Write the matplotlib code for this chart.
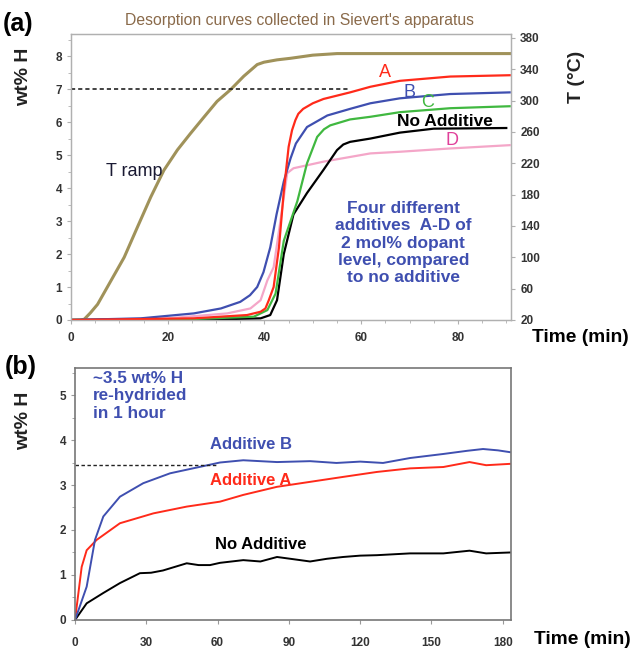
import matplotlib
matplotlib.use("Agg")
import matplotlib.pyplot as plt
import numpy as np

plt.rcParams['font.family'] = ['Liberation Sans', 'DejaVu Sans']

# ---- panel (a): desorption curves ----
t_ramp = [0, 2.0, 2.75, 4.0, 5.5, 8.25, 11, 13.7, 16.5, 19.2, 22, 24.7, 27.5, 30.2, 33, 35.7, 38.5, 39.9,
          42.6, 45.4, 50, 55, 70, 91]
T_ramp = [20, 20, 21, 29, 40, 70, 100, 138, 177, 211, 237, 258, 279, 299, 314, 331, 346, 349,
          352, 354, 358, 360, 360, 360]

t_A = [0, 25.4, 36.4, 39.2, 40.2, 40.9, 41.9, 43.0, 44.0, 45.0, 45.7, 46.4, 47.0, 48.0, 50, 52.2, 57.7, 61.9, 68, 78.4, 90.7]
w_A = [0, 0.05, 0.15, 0.25, 0.35, 0.6, 1.0, 2.2, 3.9, 5.25, 5.75, 6.06, 6.25, 6.4, 6.57, 6.7, 6.9, 7.07, 7.25, 7.38, 7.42]

t_B = [0, 14.4, 25.4, 31.0, 35.0, 37.0, 38.5, 39.8, 41.2, 42.5, 44.0, 45.4, 46.5, 48.8, 53.0, 57.7, 61.9, 68, 78.4, 90.7]
w_B = [0, 0.05, 0.2, 0.35, 0.55, 0.75, 1.0, 1.45, 2.2, 3.2, 4.2, 4.9, 5.35, 5.85, 6.2, 6.4, 6.57, 6.72, 6.85, 6.9]

t_C = [0, 25.4, 37.8, 40.6, 42.3, 44.0, 46.8, 48.8, 50.9, 52.3, 53.6, 57.7, 61.9, 68, 78.4, 90.7]
w_C = [0, 0.03, 0.1, 0.3, 0.8, 2.4, 3.6, 4.75, 5.55, 5.78, 5.9, 6.08, 6.16, 6.3, 6.42, 6.48]

t_D = [0, 20, 32.3, 37.1, 39.2, 40.6, 41.9, 43.3, 44.7, 46.0, 52.2, 61.9, 68, 78.4, 90.7]
w_D = [0, 0.05, 0.2, 0.35, 0.6, 1.2, 1.6, 3.0, 4.45, 4.6, 4.8, 5.05, 5.1, 5.2, 5.3]

t_N = [0, 30, 39.2, 41.2, 42.6, 44.0, 46.0, 48.8, 52.2, 55.0, 56.3, 57.7, 61.9, 68, 75, 90]
w_N = [0, 0.02, 0.05, 0.15, 0.6, 2.0, 3.2, 3.85, 4.55, 5.15, 5.32, 5.4, 5.5, 5.68, 5.8, 5.82]

# ---- panel (b): re-hydriding ----
t_bB = [0, 2, 4.9, 8.4, 11.9, 18.9, 28.7, 40, 54, 61, 70.8, 85, 98.9, 110, 120, 129.6, 141, 155, 165, 171.7, 178, 183]
w_bB = [0, 0.3, 0.74, 1.78, 2.3, 2.74, 3.04, 3.26, 3.42, 3.5, 3.55, 3.51, 3.53, 3.49, 3.52, 3.49, 3.6, 3.69, 3.76, 3.8, 3.77, 3.73]

t_bA = [0, 2.8, 4.9, 9.1, 18.9, 33, 47, 61, 70.8, 85, 98.9, 112.8, 127, 141, 155, 166, 173, 183]
w_bA = [0, 1.18, 1.55, 1.78, 2.15, 2.37, 2.52, 2.63, 2.78, 2.96, 3.07, 3.18, 3.29, 3.37, 3.4, 3.51, 3.44, 3.47]

t_bN = [0, 4.9, 11.9, 18.9, 27.3, 32, 37, 42, 47, 52, 56.8, 61, 70.8, 78, 85, 92, 98.9, 106, 112.8, 120, 127, 141, 155, 166, 173, 183]
w_bN = [0, 0.37, 0.6, 0.82, 1.04, 1.05, 1.1, 1.18, 1.26, 1.22, 1.22, 1.27, 1.33, 1.3, 1.4, 1.35, 1.3, 1.36, 1.4, 1.43, 1.44, 1.48, 1.48, 1.54, 1.48, 1.5]

c_ramp = '#a0925a'
c_red = '#ff2a1a'
c_blue = '#3f4fb0'
c_green = '#40b840'
c_pink = '#f4a6c8'
c_txt = '#333333'

fig = plt.figure(figsize=(6.31, 6.5), dpi=100)

# ===== top panel =====
ax = fig.add_axes([0.1125, 0.5077, 0.6975, 0.44])
ax2 = ax.twinx()

ax2.plot(t_ramp, T_ramp, color=c_ramp, lw=2.2)
ax.plot(t_D, w_D, color=c_pink, lw=1.6)
ax.plot(t_N, w_N, color='black', lw=1.6)
ax.plot(t_C, w_C, color=c_green, lw=1.6)
ax.plot(t_B, w_B, color=c_blue, lw=1.6)
ax.plot(t_A, w_A, color=c_red, lw=1.6)
ax.plot([0, 57.7], [7, 7], color='#222222', lw=1.2, ls=(0, (2.5, 1.8)))

ax.set_xlim(0, 91)
ax.set_ylim(0, 8.67)
ax2.set_ylim(20, 385)
ax.set_xticks([0, 20, 40, 60, 80])
ax.set_xticks(np.arange(0, 91, 5), minor=True)
ax.set_yticks(range(0, 9))
ax.set_yticks(np.arange(0, 8.6, 0.5), minor=True)
ax2.set_yticks(range(20, 381, 40))
ax.set_zorder(ax2.get_zorder() + 1)
ax.patch.set_visible(False)

for a in (ax, ax2):
    for s in a.spines.values():
        s.set_color('#b0b0b0')
        s.set_linewidth(0.9)
    a.tick_params(which='both', colors='#b0b0b0', labelcolor=c_txt, labelsize=8.5, length=3)
    a.tick_params(which='minor', length=2)
    for lbl in a.get_xticklabels() + a.get_yticklabels():
        lbl.set_fontweight('bold')
ax.tick_params(axis='x', pad=6)

ax.set_ylabel('wt% H', fontsize=14, fontweight='bold', color='#222222')
ax.yaxis.set_label_coords(-0.089, 0.85)
ax2.set_ylabel('T (°C)', fontsize=14, fontweight='bold', color='#222222')
ax2.yaxis.set_label_coords(1.13, 0.85)

ax.text(65, 7.5, 'A', color=c_red, fontsize=13, ha='center', va='center')
ax.text(70, 6.9, 'B', color=c_blue, fontsize=13, ha='center', va='center')
ax.text(73.8, 6.6, 'C', color=c_green, fontsize=13, ha='center', va='center')
ax.text(77.3, 6.03, 'No Additive', color='black', fontsize=12.5, fontweight='bold', ha='center', va='center')
ax.text(78.8, 5.45, 'D', color='#e0409a', fontsize=13, ha='center', va='center')
ax.text(13.1, 4.5, 'T ramp', color='#1a1a33', fontsize=13, ha='center', va='center')
ax.text(68.7, 2.33, 'Four different\nadditives  A-D of\n2 mol% dopant\nlevel, compared\nto no additive',
        color=c_blue, fontsize=12.5, fontweight='bold', ha='center', va='center', linespacing=1.2)

fig.text(0.474, 0.968, "Desorption curves collected in Sievert's apparatus", color='#8a6a4a',
         fontsize=11.3, ha='center', va='center')
fig.text(0.005, 0.963, '(a)', fontsize=18, fontweight='bold', ha='left', va='center')
fig.text(0.92, 0.481, 'Time (min)', fontsize=13.8, fontweight='bold', ha='center', va='center')

# ===== bottom panel =====
bx = fig.add_axes([0.1189, 0.0462, 0.6911, 0.3876])
bx.plot(t_bN, w_bN, color='black', lw=1.4)
bx.plot(t_bA, w_bA, color=c_red, lw=1.4)
bx.plot(t_bB, w_bB, color=c_blue, lw=1.4)
bx.plot([0, 60], [3.44, 3.44], color='#222222', lw=1.0, ls=(0, (2.5, 1.8)))

bx.set_xlim(0, 183.5)
bx.set_ylim(0, 5.6)
bx.set_xticks(range(0, 181, 30))
bx.set_yticks(range(0, 6))
bx.set_yticks(np.arange(0, 5.6, 0.5), minor=True)
for s in bx.spines.values():
    s.set_color('#777777')
    s.set_linewidth(1.2)
bx.tick_params(which='both', colors='#999999', labelcolor=c_txt, labelsize=8.5, length=3)
bx.tick_params(which='minor', length=2)
bx.tick_params(axis='x', pad=9)
for lbl in bx.get_xticklabels() + bx.get_yticklabels():
    lbl.set_fontweight('bold')

bx.set_ylabel('wt% H', fontsize=14, fontweight='bold', color='#222222')
bx.yaxis.set_label_coords(-0.099, 0.79)

bx.text(7.5, 4.98, '~3.5 wt% H\nre-hydrided\nin 1 hour', color=c_blue, fontsize=12.3,
        fontweight='bold', ha='left', va='center', linespacing=1.2)
bx.text(57, 3.9, 'Additive B', color=c_blue, fontsize=12, fontweight='bold', ha='left', va='center')
bx.text(57, 3.11, 'Additive A', color=c_red, fontsize=12, fontweight='bold', ha='left', va='center')
bx.text(59, 1.67, 'No Additive', color='black', fontsize=12, fontweight='bold', ha='left', va='center')

fig.text(0.008, 0.435, '(b)', fontsize=18, fontweight='bold', ha='left', va='center')
fig.text(0.923, 0.016, 'Time (min)', fontsize=13.8, fontweight='bold', ha='center', va='center')

fig.savefig('out.png', dpi=100)
